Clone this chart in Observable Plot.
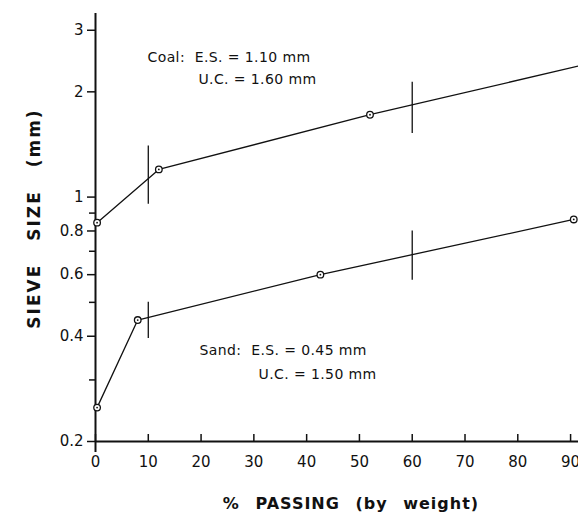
<!DOCTYPE html>
<html><head><meta charset="utf-8">
<script src="https://cdn.jsdelivr.net/npm/d3@7"></script>
<script src="https://cdn.jsdelivr.net/npm/@observablehq/plot@0.6"></script>
<style>
body{margin:0;background:#fff}
</style></head><body><div id="chart"></div>
<script>
// Coal gradation (% passing vs sieve size, mm)
const coalPassing = [0.3, 12, 52, 91.5];
const coalSize    = [0.845, 1.20, 1.72, 2.37];
const coalMeasured = [true, true, true, false];
// Sand gradation
const sandPassing = [0.3, 8, 42.6, 90.6];
const sandSize    = [0.25, 0.445, 0.60, 0.863];
// d10 / d60 markers
const markPassing  = [10, 60];
const coalMarkLow  = [0.954, 1.52];
const coalMarkHigh = [1.40, 2.13];
const sandMarkLow  = [0.394, 0.578];
const sandMarkHigh = [0.50, 0.80];
// ticks
const xTicks = [0,10,20,30,40,50,60,70,80,90];
const yLabelTicks = [0.2,0.4,0.6,0.8,1,2,3];
const yMinorTicks = [0.3,0.5,0.7,0.9];
// annotations
const noteText = ["Coal:  E.S. = 1.10 mm", "U.C. = 1.60 mm", "Sand:  E.S. = 0.45 mm", "U.C. = 1.50 mm"];
const noteX = [9.85, 19.5, 19.7, 30.9];
const noteY = [2.51, 2.17, 0.364, 0.311];
const xTitle = "% PASSING (by weight)";
const yTitle = "SIEVE SIZE (mm)";

const coal = coalPassing.map((p,i)=>({p, s: coalSize[i], m: coalMeasured[i]}));
const sand = sandPassing.map((p,i)=>({p, s: sandSize[i], m: true}));
const marks = markPassing.flatMap((p,i)=>[
  {p, lo: coalMarkLow[i], hi: coalMarkHigh[i]},
  {p, lo: sandMarkLow[i], hi: sandMarkHigh[i]}
]);
const notes = noteText.map((t,i)=>({t, x: noteX[i], y: noteY[i]}));
const pts = [...coal, ...sand].filter(d=>d.m);

const font = "'DejaVu Sans', sans-serif";
const chart = Plot.plot({
  width: 578, height: 519,
  marginLeft: 95, marginRight: 0, marginTop: 13, marginBottom: 78,
  style: {fontFamily: font, fontSize: "15px", color: "#111", background: "#fff"},
  x: {domain: [0, 91.5], label: null},
  y: {type: "log", domain: [0.2, 3.35], label: null},
  marks: [
    Plot.axisX(xTicks, {tickSize: -7, tickPadding: 22, strokeWidth: 1.5, fontSize: 15, label: null}),
    Plot.axisX([0], {tickSize: 11, strokeWidth: 2, tickFormat: () => "", label: null}),
    Plot.axisY(yLabelTicks, {tickSize: 8, tickPadding: 4, strokeWidth: 1.5, fontSize: 15, label: null, tickFormat: d => String(d)}),
    Plot.axisY(yMinorTicks, {tickSize: 6, strokeWidth: 1.5, tickFormat: () => "", label: null}),
    Plot.ruleX([0], {strokeWidth: 2}),
    Plot.ruleY([0.2], {strokeWidth: 2}),
    Plot.line(coal, {x: "p", y: "s", strokeWidth: 1.3}),
    Plot.line(sand, {x: "p", y: "s", strokeWidth: 1.3}),
    Plot.ruleX(marks, {x: "p", y1: "lo", y2: "hi", strokeWidth: 1.3}),
    Plot.dot(pts, {x: "p", y: "s", r: 3.3, stroke: "#111", fill: "#fff", strokeWidth: 1.3}),
    Plot.dot(pts, {x: "p", y: "s", r: 0.9, fill: "#111"}),
    Plot.text(notes, {x: "x", y: "y", text: "t", textAnchor: "start", fontSize: 14, fill: "#111"}),
    Plot.text([xTitle], {frameAnchor: "bottom", dy: 67, dx: 14, fontSize: 16, fontWeight: "bold", fill: "#111"}),
    Plot.text([yTitle], {frameAnchor: "left", textAnchor: "middle", dx: -61, dy: -9, rotate: -90, fontSize: 17, fontWeight: "bold", fill: "#111"})
  ]
});
d3.select(chart).selectAll("text")
  .filter(function(){ return this.textContent === xTitle; })
  .style("letter-spacing", "1px").style("word-spacing", "9px");
d3.select(chart).selectAll("text")
  .filter(function(){ return this.textContent === yTitle; })
  .style("letter-spacing", "2px").style("word-spacing", "15px");
d3.select(chart).selectAll("text")
  .filter(function(){ return noteText.includes(this.textContent); })
  .style("letter-spacing", "0.4px");
document.getElementById("chart").appendChild(chart);
</script></body></html>
